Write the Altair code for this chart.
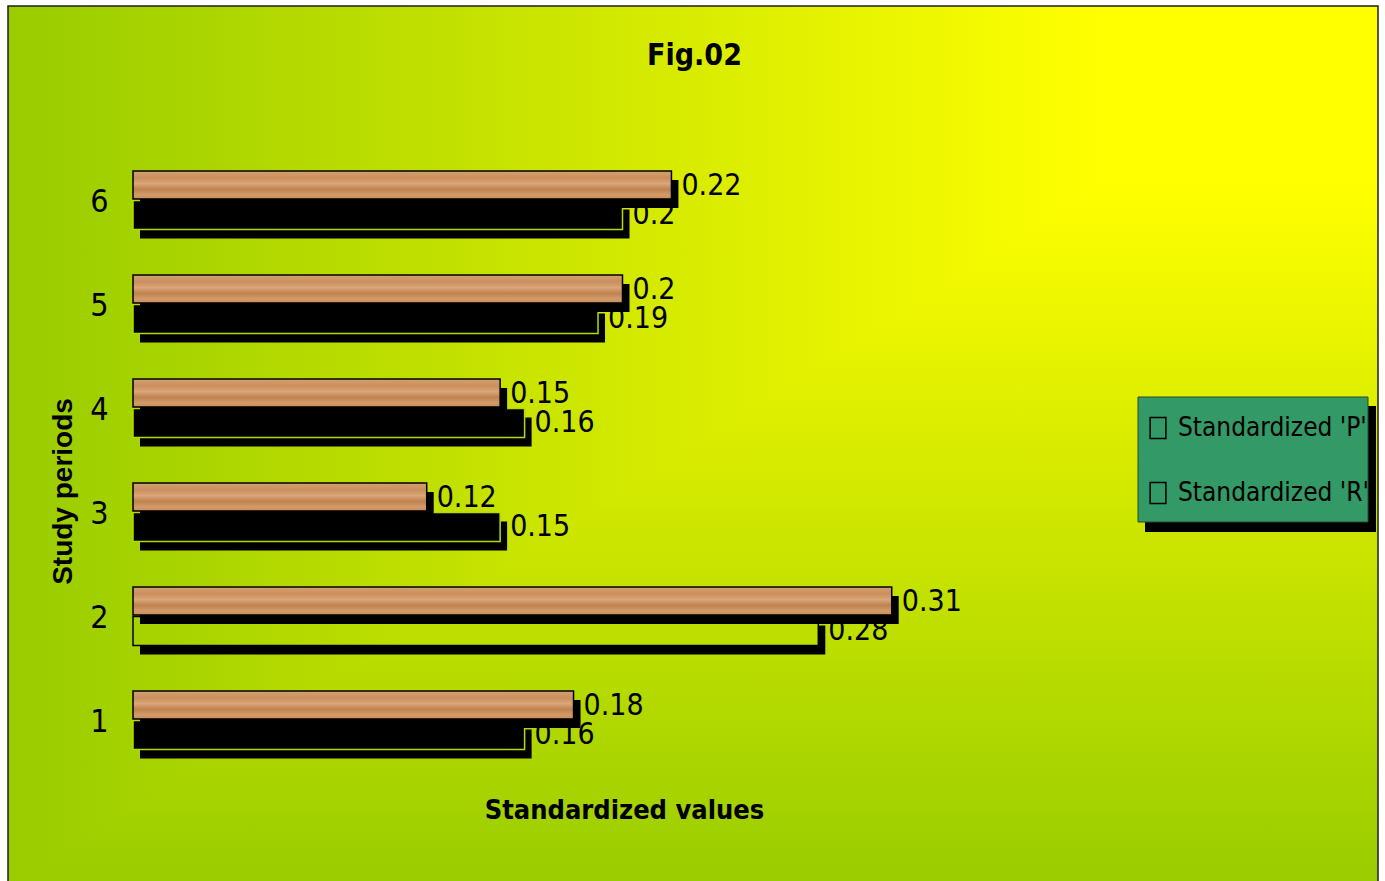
import altair as alt
import pandas as pd

# Study periods and the two standardized series
PERIODS = [1, 2, 3, 4, 5, 6]
P_VALUES = [0.18, 0.31, 0.12, 0.15, 0.20, 0.22]
R_VALUES = [0.16, 0.28, 0.15, 0.16, 0.19, 0.20]
SERIES = ["Standardized 'P'", "Standardized 'R'"]
PERIOD_ORDER = [6, 5, 4, 3, 2, 1]

NARROW = "DejaVu Sans Condensed"
SANS = "Liberation Sans"

W, H = 979, 624

YELLOW, LIME = "#FFFF00", "#99CC00"
STOPS = [
    {"offset": 0.0, "color": YELLOW},
    {"offset": 0.2, "color": YELLOW},
    {"offset": 1.0, "color": LIME},
]
# corner gradient = horizontal ramp + lower-right triangle with vertical ramp
H_GRAD = {"gradient": "linear", "x1": 1, "y1": 0, "x2": 0, "y2": 0, "stops": STOPS}
V_GRAD = {"gradient": "linear", "x1": 0, "y1": 0, "x2": 0, "y2": 1, "stops": STOPS}

WOOD = {
    "gradient": "linear", "x1": 0, "y1": 0, "x2": 0, "y2": 1,
    "stops": [
        {"offset": 0.0, "color": "#D6A070"},
        {"offset": 0.25, "color": "#C98F5E"},
        {"offset": 0.45, "color": "#DBA677"},
        {"offset": 0.65, "color": "#BE8250"},
        {"offset": 0.85, "color": "#D39B69"},
        {"offset": 1.0, "color": "#C88D5B"},
    ],
}
# see-through look for the unfilled R bar (follows the backdrop tone)
HOLLOW = {
    "gradient": "linear", "x1": 0, "y1": 0, "x2": 1, "y2": 0,
    "stops": [
        {"offset": 0.0, "color": "#A5D200"},
        {"offset": 0.39, "color": "#BDDE00"},
        {"offset": 1.0, "color": "#BDDE00"},
    ],
}

df = pd.DataFrame({"period": PERIODS, "P": P_VALUES, "R": R_VALUES})
base = alt.Chart(df)
one = alt.Data(values=[{}])

x_scale = alt.Scale(domain=[0, 0.4], nice=False, zero=True)
y_scale = alt.Scale(domain=PERIOD_ORDER, paddingInner=0, paddingOuter=0)

x_axis = alt.Axis(
    labels=False, ticks=False, domain=False, grid=False, zindex=2,
    title="Standardized values", titleFont=NARROW, titleFontSize=27,
    titleFontWeight="bold", titleColor="black", titleX=491, titleY=46,
    titleAlign="center", titleBaseline="alphabetic", titleAngle=0,
)
y_axis = alt.Axis(
    ticks=False, domain=False, grid=False, zindex=2,
    labelFont=NARROW, labelFontSize=32, labelColor="black",
    labelPadding=25, labelBaseline="alphabetic", labelOffset=12,
    title="Study periods", titleFont=SANS, titleFontSize=28,
    titleFontWeight="bold", titleColor="black", titleAngle=270,
    titleX=-62, titleY=343, titleAlign="center", titleBaseline="alphabetic",
)


def xq(field):
    return alt.X(f"{field}:Q", scale=x_scale, axis=x_axis)


def yp():
    return alt.Y("period:O", scale=y_scale, axis=y_axis)


# chart area background and frame
bg_h = alt.Chart(one).mark_rect(fill=H_GRAD, strokeWidth=0).encode(
    x=alt.value(-125), x2=alt.value(1245), y=alt.value(-142), y2=alt.value(738)
)
bg_tri = alt.Chart(one).mark_point(
    shape="M685,-440L685,440L-685,440Z", size=4, filled=True,
    fill=V_GRAD, opacity=1, strokeWidth=0,
).encode(x=alt.value(560), y=alt.value(298))
frame = alt.Chart(one).mark_rect(fill="transparent", stroke="#1e1e1e", strokeWidth=1.5).encode(
    x=alt.value(-125), x2=alt.value(1245), y=alt.value(-142), y2=alt.value(738)
)

# legend panel with drop shadow
legend_shadow = alt.Chart(one).mark_rect(fill="black").encode(
    x=alt.value(1012), x2=alt.value(1243), y=alt.value(258), y2=alt.value(384)
)
legend_box = alt.Chart(one).mark_rect(fill="#339966", stroke="#2a4a2a", strokeWidth=1).encode(
    x=alt.value(1005), x2=alt.value(1235), y=alt.value(249), y2=alt.value(374)
)

# series R: shadow, bar, value label
r_shadow = base.mark_bar(fill="black", height=29, xOffset=7, x2Offset=7, yOffset=24).encode(
    x=xq("R"), y=yp()
)
r_bar = base.mark_bar(height=29, yOffset=15, strokeWidth=1.5).encode(
    x=xq("R"), y=yp(),
    fill=alt.condition(alt.datum.period == 2, alt.value(HOLLOW), alt.value("black")),
    stroke=alt.condition(alt.datum.period == 2, alt.value("black"), alt.value("#B4DC00")),
)
r_label = base.mark_text(
    align="left", baseline="alphabetic", dx=10, yOffset=24,
    font=NARROW, fontSize=30, color="black",
).encode(x=xq("R"), y=yp(), text=alt.Text("R:Q"))

# series P: shadow, bar, value label
p_shadow = base.mark_bar(fill="black", height=28, xOffset=7, x2Offset=7, yOffset=-6).encode(
    x=xq("P"), y=yp()
)
p_bar = base.mark_bar(height=28, yOffset=-15, fill=WOOD, stroke="black", strokeWidth=1.5).encode(
    x=xq("P"), y=yp()
)
p_label = base.mark_text(
    align="left", baseline="alphabetic", dx=10, yOffset=-5,
    font=NARROW, fontSize=30, color="black",
).encode(x=xq("P"), y=yp(), text=alt.Text("P:Q"))

# legend entries (hollow rectangular keys)
legend_src = alt.Chart(pd.DataFrame({"series": SERIES})).mark_point(
    opacity=0, filled=False, size=1
).encode(
    stroke=alt.Stroke(
        "series:N",
        scale=alt.Scale(domain=SERIES, range=["black", "black"]),
        legend=alt.Legend(
            orient="none", legendX=1012, legendY=267, title=None,
            direction="vertical", labelFont=NARROW, labelFontSize=26,
            labelColor="black", labelLimit=400, labelOffset=7,
            rowPadding=37, padding=0,
            symbolType="M-0.75,-1L0.75,-1L0.75,1L-0.75,1Z", symbolSize=441,
            symbolStrokeWidth=1.5, symbolOpacity=1, symbolFillColor="transparent",
        ),
    )
)

chart = alt.layer(
    bg_h, bg_tri, frame, legend_shadow, legend_box,
    r_shadow, r_bar, r_label, p_shadow, p_bar, p_label, legend_src,
).properties(
    width=W, height=H,
    padding={"left": 133, "top": 148, "right": 273, "bottom": 109},
    autosize=alt.AutoSizeParams(type="none"),
    background="white",
    title=alt.Title(
        text="Fig.02", font=NARROW, fontSize=30, fontWeight="bold", color="black",
        anchor="middle", frame="group", dx=72, offset=-89.75, baseline="alphabetic",
    ),
).configure_view(strokeWidth=0)

chart.save("out.html", embed_options={"renderer": "svg", "actions": False})
